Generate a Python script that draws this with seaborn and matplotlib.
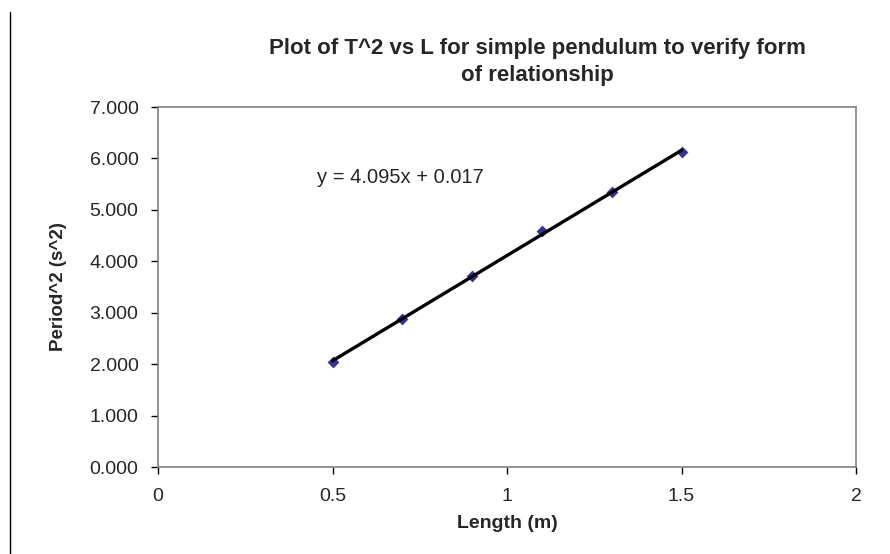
import matplotlib
matplotlib.use("Agg")
import matplotlib.pyplot as plt
import seaborn as sns
import pandas as pd
from matplotlib.lines import Line2D

length_m = [0.5, 0.7, 0.9, 1.1, 1.3, 1.5]
period_sq = [2.04, 2.88, 3.71, 4.58, 5.34, 6.12]
x_ticks = [0, 0.5, 1, 1.5, 2]
x_tick_labels = ["0", "0.5", "1", "1.5", "2"]
y_ticks = [0, 1, 2, 3, 4, 5, 6, 7]
y_tick_labels = ["0.000", "1.000", "2.000", "3.000", "4.000", "5.000", "6.000", "7.000"]
title = "Plot of T^2 vs L for simple pendulum to verify form\nof relationship"
eq_text = "y = 4.095x + 0.017"

sns.set_style("white")
plt.rcParams['font.family'] = ['Liberation Sans', 'DejaVu Sans']

df = pd.DataFrame({"Length (m)": length_m, "Period^2 (s^2)": period_sq})

fig = plt.figure(figsize=(8.9, 5.54), dpi=100)
ax = fig.add_axes([158/890, 1-467/554, (856-158)/890, (467-107)/554])

sns.regplot(data=df, x="Length (m)", y="Period^2 (s^2)", ax=ax, ci=None, truncate=True,
            marker="D",
            scatter_kws=dict(s=36, color="#000080", zorder=2, linewidths=0),
            line_kws=dict(color="black", lw=2.4, zorder=3))

ax.set_xlim(0, 2)
ax.set_ylim(0, 7)
ax.set_xticks(x_ticks)
ax.set_xticklabels(x_tick_labels)
ax.set_yticks(y_ticks)
ax.set_yticklabels(y_tick_labels)
ax.tick_params(axis="both", direction="out", length=5, width=1, color="black",
               labelsize=14, bottom=True, left=True)
ax.tick_params(axis="y", pad=9)
ax.tick_params(axis="x", pad=10)
for sp in ax.spines.values():
    sp.set_color("#808080")
    sp.set_linewidth(1.2)

ax.set_xlabel("Length (m)", fontsize=14, fontweight="bold", labelpad=7)
ax.set_ylabel("Period^2 (s^2)", fontsize=13.5, fontweight="bold", labelpad=16)
ax.set_title(title, fontsize=16, fontweight="bold", pad=19, linespacing=1.35, x=0.543)

ax.text(0.455, 5.62, eq_text, fontsize=14.5, va="center", ha="left")

fig.add_artist(Line2D([10/890, 10/890], [0, 1-12/554], transform=fig.transFigure,
                      color="black", lw=1))

fig.savefig("out.png", dpi=100)
